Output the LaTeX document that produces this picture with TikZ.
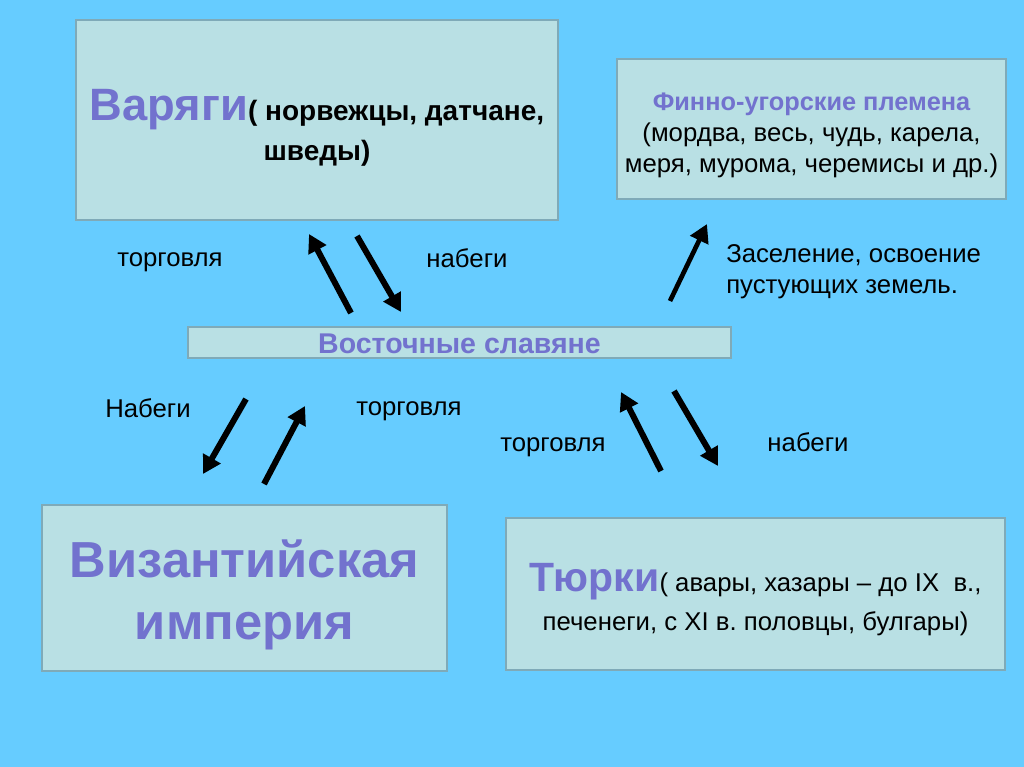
\documentclass[tikz,border=0pt]{standalone}
\usepackage{fontspec}
\setmainfont{Liberation Sans}
\usetikzlibrary{arrows.meta}
\frenchspacing

\definecolor{skyback}{HTML}{66CCFF}
\definecolor{boxfill}{HTML}{B9E0E4}
\definecolor{boxline}{HTML}{7FAAB8}
\definecolor{titlecol}{HTML}{7272CE}

\begin{document}
\begin{tikzpicture}[
            x=0.75pt, y=-0.75pt, % pixel grid of the slide
            font=\fontsize{19.3}{23.25}\selectfont,
            every node/.style={inner sep=0pt},
            group/.style={
                draw=boxline,
                fill=boxfill,
                line width=0.8pt
            },
            words/.style={align=center},
            tag/.style={anchor=base},
            bigarrow/.style={
                draw,
                line width=4.5pt,
                -{Triangle[length=13.5pt, width=14.5pt]} % heavy arrows as on the slide
            }
        ]
        \fill[skyback] (0,0) rectangle (1024,767);
        \useasboundingbox (0,0) rectangle (1024,767);

        % the peoples
        \node[group, minimum width=361.5pt, minimum height=150pt] (var) at (317,120) {};
        \node[group, minimum width=291.75pt, minimum height=105pt] (fin) at (811.5,129) {};
        \node[group, minimum width=407.25pt, minimum height=23.25pt] (slav) at (459.5,342.5) {};
        \node[group, minimum width=303.75pt, minimum height=124.5pt] (viz) at (244.5,588) {};
        \node[group, minimum width=374.25pt, minimum height=114pt] (turk) at (755.5,594) {};

        \node[words, yshift=-6pt, font=\fontsize{21}{30}\selectfont\bfseries] (varT) at (var)
            {{\color{titlecol}\fontsize{34}{30}\selectfont Варяги}( норвежцы, датчане,\\шведы)};
        \node[words, yshift=-5pt] (finT) at (fin)
            {{\color{titlecol}\fontsize{19}{23.25}\selectfont\bfseries Финно-угорские племена}\\(мордва, весь, чудь, карела,\\меря, мурома, черемисы и др.)};
        \node[words, yshift=-1pt, text=titlecol, font=\fontsize{21.4}{22}\selectfont\bfseries] (slavT) at (slav)
            {Восточные славяне};
        \node[words, yshift=-5pt, text=titlecol, font=\fontsize{38}{46.5}\selectfont\bfseries] (vizT) at (viz)
            {Византийская\\империя};
        \node[words, yshift=-4pt, font=\fontsize{19.3}{29}\selectfont] (turkT) at (turk)
            {{\color{titlecol}\fontsize{30.7}{30}\selectfont\bfseries Тюрки}( авары, хазары – до IX\ \ в.,\\печенеги, с XI в. половцы, булгары)};

        % arrow ends
        \coordinate (a1) at (351,313);  \coordinate (a2) at (309,234);
        \coordinate (b1) at (357,236);  \coordinate (b2) at (401,312);
        \coordinate (c1) at (670,301);  \coordinate (c2) at (707,224);
        \coordinate (d1) at (246,399);  \coordinate (d2) at (203,474);
        \coordinate (e1) at (264,484);  \coordinate (e2) at (305,406);
        \coordinate (f1) at (661,471);  \coordinate (f2) at (621,392);
        \coordinate (g1) at (674,391);  \coordinate (g2) at (718,466);

        \draw[bigarrow] (a1) -- (a2);
        \draw[bigarrow] (b1) -- (b2);
        \draw[bigarrow, line width=3.5pt] (c1) -- (c2);
        \draw[bigarrow] (d1) -- (d2);
        \draw[bigarrow] (e1) -- (e2);
        \draw[bigarrow] (f1) -- (f2);
        \draw[bigarrow] (g1) -- (g2);

        % what goes along the arrows
        \node[tag] (t1) at (170,266) {торговля};
        \node[tag] (t2) at (467,267) {набеги};
        \node[anchor=west, align=left] (t3) at (726,272)
            {Заселение, освоение\\пустующих земель.};
        \node[tag] (t4) at (148,417) {Набеги};
        \node[tag] (t5) at (409,415) {торговля};
        \node[tag] (t6) at (553,451) {торговля};
        \node[tag] (t7) at (808,451) {набеги};
    \end{tikzpicture}
\end{document}
